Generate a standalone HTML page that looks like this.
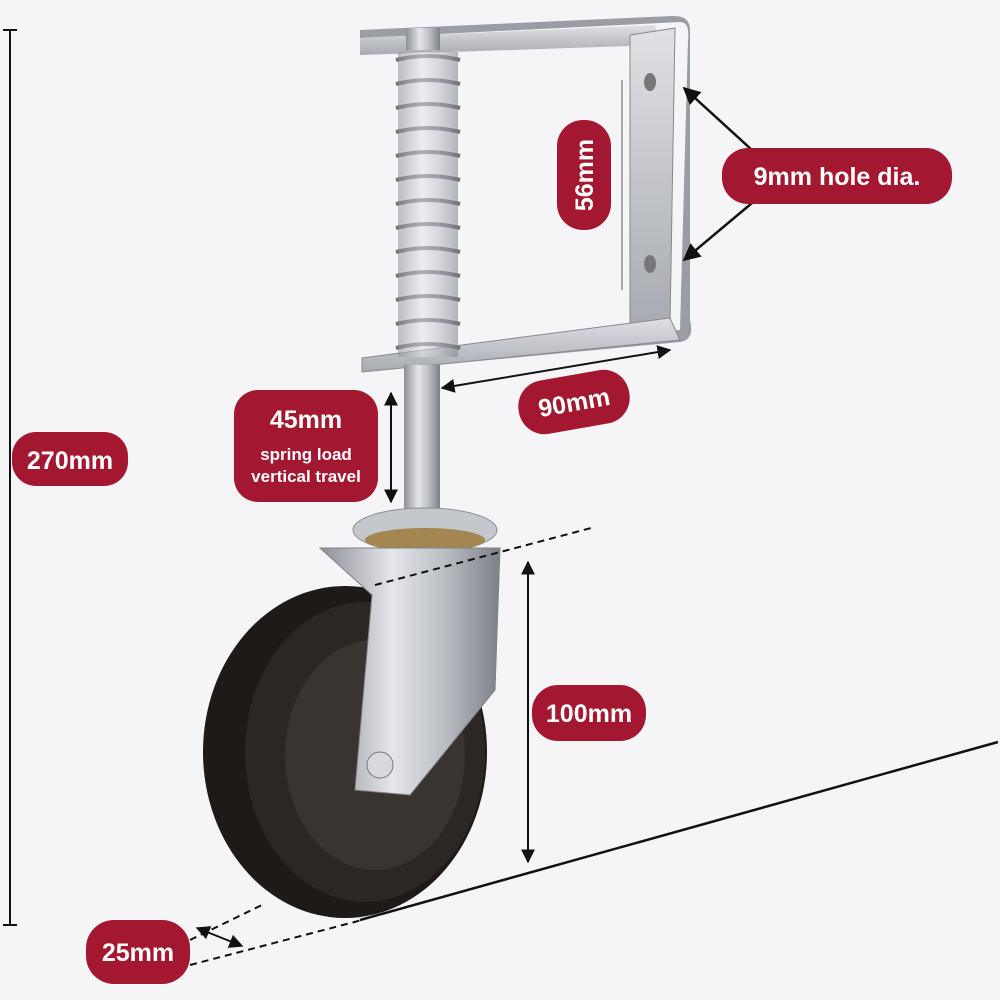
<!DOCTYPE html>
<html><head><meta charset="utf-8"><style>
html,body{margin:0;padding:0;background:#f5f5f7;}
svg{display:block}
text{font-family:"Liberation Sans",sans-serif;fill:#fff;font-weight:bold}
</style></head><body>
<svg width="1000" height="1000" viewBox="0 0 1000 1000" xmlns="http://www.w3.org/2000/svg">
<defs>
<linearGradient id="metal" x1="0" x2="1" y1="0" y2="0">
<stop offset="0" stop-color="#8d9097"/><stop offset="0.4" stop-color="#e4e6ea"/><stop offset="0.7" stop-color="#b9bcc2"/><stop offset="1" stop-color="#7d8087"/></linearGradient>
<linearGradient id="plate" x1="0" x2="0" y1="0" y2="1">
<stop offset="0" stop-color="#dfe1e5"/><stop offset="1" stop-color="#a7aab0"/></linearGradient>
<marker id="ah" viewBox="0 0 10 10" refX="9" refY="5" markerWidth="7" markerHeight="7" orient="auto-start-reverse"><path d="M0,0 L10,5 L0,10 z" fill="#111"/></marker>
</defs>
<rect width="1000" height="1000" fill="#f5f5f7"/>

<!-- 270 line -->
<line x1="10" y1="30" x2="10" y2="925" stroke="#111" stroke-width="2"/>
<line x1="3" y1="30" x2="17" y2="30" stroke="#111" stroke-width="2"/>
<line x1="3" y1="925" x2="17" y2="925" stroke="#111" stroke-width="2"/>
<rect x="12" y="432" width="116" height="54" rx="24" fill="#a31830"/>
<text x="70" y="469" font-size="25" text-anchor="middle">270mm</text>

<!-- ground -->
<line x1="360" y1="920" x2="998" y2="742" stroke="#111" stroke-width="2.5"/>
<line x1="190" y1="965" x2="362" y2="920" stroke="#111" stroke-width="2" stroke-dasharray="7,5"/>
<line x1="190" y1="940" x2="262" y2="905" stroke="#111" stroke-width="2" stroke-dasharray="7,5"/>
<line x1="197" y1="928" x2="242" y2="946" stroke="#111" stroke-width="2" marker-start="url(#ah)" marker-end="url(#ah)"/>
<rect x="86" y="920" width="104" height="64" rx="28" fill="#a31830"/>
<text x="138" y="961" font-size="25" text-anchor="middle">25mm</text>

<!-- bracket -->
<path d="M360,38 L680,22 Q690,22 688,40 L680,330 L362,360 L362,372 L680,342 Q695,340 690,320 L690,30 Q690,15 672,16 L360,30 Z" fill="#9a9da3"/>
<path d="M360,38 L655,25 L660,45 L360,55 Z" fill="url(#plate)"/>
<path d="M630,35 L675,28 L670,325 L630,330 Z" fill="url(#plate)" stroke="#888" stroke-width="1"/>
<path d="M362,358 L670,318 L680,340 L362,372 Z" fill="url(#plate)" stroke="#888" stroke-width="1"/>
<ellipse cx="650" cy="82" rx="6" ry="9" fill="#777"/>
<ellipse cx="650" cy="264" rx="6" ry="9" fill="#777"/>
<line x1="622" y1="80" x2="622" y2="290" stroke="#aaa" stroke-width="2"/>

<!-- spring -->
<rect x="406" y="28" width="34" height="22" fill="url(#metal)"/>
<g stroke="#6e7178" stroke-width="4" fill="none">
<path d="M396,60 Q428,52 460,60 M396,84 Q428,76 460,84 M396,108 Q428,100 460,108 M396,132 Q428,124 460,132 M396,156 Q428,148 460,156 M396,180 Q428,172 460,180 M396,204 Q428,196 460,204 M396,228 Q428,220 460,228 M396,252 Q428,244 460,252 M396,276 Q428,268 460,276 M396,300 Q428,292 460,300 M396,324 Q428,316 460,324 M396,348 Q428,340 460,348"/>
</g>
<rect x="398" y="52" width="60" height="305" fill="url(#metal)" opacity="0.55"/>
<!-- shaft -->
<rect x="404" y="365" width="36" height="160" fill="url(#metal)"/>
<!-- washer -->
<ellipse cx="425" cy="530" rx="72" ry="22" fill="#c4c7cc" stroke="#8a8d93"/>
<ellipse cx="425" cy="540" rx="60" ry="12" fill="#a48650"/>

<!-- wheel -->
<ellipse cx="345" cy="752" rx="142" ry="166" fill="#1e1a18"/>
<ellipse cx="365" cy="752" rx="120" ry="150" fill="#2c2724"/>
<ellipse cx="375" cy="755" rx="90" ry="115" fill="#3a3430"/>
<!-- fork -->
<path d="M320,548 L500,548 L495,690 L410,795 L355,790 L372,595 Z" fill="url(#metal)" stroke="#7f8288"/>
<circle cx="380" cy="765" r="13" fill="#d7d9dd" stroke="#777"/>

<!-- 100mm -->
<line x1="375" y1="585" x2="595" y2="527" stroke="#111" stroke-width="2" stroke-dasharray="7,5"/>
<line x1="528" y1="562" x2="528" y2="862" stroke="#111" stroke-width="2" marker-start="url(#ah)" marker-end="url(#ah)"/>
<rect x="532" y="685" width="114" height="56" rx="26" fill="#a31830"/>
<text x="589" y="722" font-size="25" text-anchor="middle">100mm</text>

<!-- 45mm -->
<line x1="391" y1="393" x2="391" y2="502" stroke="#111" stroke-width="2" marker-start="url(#ah)" marker-end="url(#ah)"/>
<rect x="234" y="390" width="144" height="112" rx="24" fill="#a31830"/>
<text x="306" y="428" font-size="25" text-anchor="middle">45mm</text>
<text x="306" y="460" font-size="17" text-anchor="middle" font-weight="normal">spring load</text>
<text x="306" y="482" font-size="17" text-anchor="middle" font-weight="normal">vertical travel</text>

<!-- 90mm -->
<line x1="442" y1="388" x2="670" y2="350" stroke="#111" stroke-width="2" marker-start="url(#ah)" marker-end="url(#ah)"/>
<g transform="rotate(-10 574 402)">
<rect x="518" y="375" width="112" height="54" rx="26" fill="#a31830"/>
<text x="574" y="411" font-size="25" text-anchor="middle">90mm</text>
</g>

<!-- 56mm -->
<g transform="rotate(-90 584 175)">
<rect x="529" y="148" width="110" height="54" rx="26" fill="#a31830"/>
<text x="584" y="184" font-size="25" text-anchor="middle">56mm</text>
</g>

<!-- 9mm -->
<line x1="752" y1="150" x2="684" y2="88" stroke="#111" stroke-width="2.5" marker-end="url(#ah)"/>
<line x1="752" y1="203" x2="684" y2="260" stroke="#111" stroke-width="2.5" marker-end="url(#ah)"/>
<rect x="722" y="148" width="230" height="56" rx="26" fill="#a31830"/>
<text x="837" y="185" font-size="25" text-anchor="middle">9mm hole dia.</text>
</svg>
</body></html>
